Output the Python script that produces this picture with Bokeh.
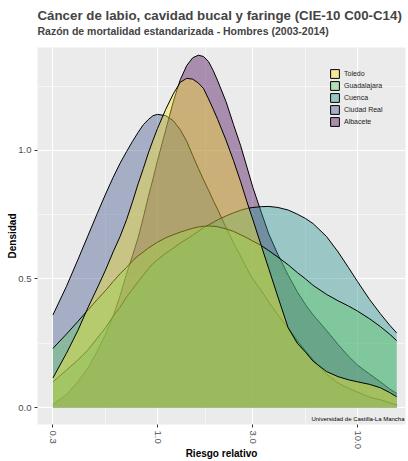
import numpy as np
from bokeh.plotting import figure
from bokeh.models import (Range1d, FixedTicker, PrintfTickFormatter, Title, Label,
                          Legend, LegendItem)
from bokeh.embed import file_html
from bokeh.resources import INLINE

# Relative risk grid (log scale) and density estimates per province
riesgo = [0.3, 0.35, 0.4, 0.45, 0.5, 0.55, 0.6, 0.65, 0.7, 0.75, 0.8, 0.85, 0.9, 0.95,
          1.0, 1.1, 1.2, 1.3, 1.4, 1.5, 1.6, 1.7, 1.8, 1.9, 2.0, 2.2, 2.4, 2.6, 2.8,
          3.0, 3.3, 3.6, 4.0, 4.5, 5.0, 5.5, 6.0, 7.0, 8.0, 9.0, 10.0, 11.5, 13.0,
          14.5, 15.7]

toledo = [0.115, 0.21, 0.30, 0.39, 0.465, 0.535, 0.605, 0.665, 0.73, 0.80, 0.87,
          0.93, 0.99, 1.04, 1.085, 1.16, 1.22, 1.265, 1.28, 1.277, 1.262, 1.24,
          1.20, 1.16, 1.12, 1.04, 0.96, 0.88, 0.80, 0.73, 0.63, 0.54, 0.43, 0.31,
          0.25, 0.215, 0.18, 0.14, 0.12, 0.108, 0.10, 0.09, 0.077, 0.058, 0.042]

guadalajara = [0.23, 0.285, 0.335, 0.38, 0.42, 0.455, 0.49, 0.52, 0.545, 0.57, 0.59,
               0.605, 0.62, 0.632, 0.643, 0.66, 0.672, 0.682, 0.69, 0.697, 0.702,
               0.705, 0.706, 0.705, 0.703, 0.695, 0.685, 0.672, 0.66, 0.647, 0.63,
               0.61, 0.585, 0.555, 0.525, 0.50, 0.475, 0.44, 0.415, 0.395, 0.375,
               0.345, 0.315, 0.285, 0.26]

cuenca = [0.10, 0.145, 0.185, 0.225, 0.27, 0.31, 0.355, 0.39, 0.43, 0.46, 0.49,
          0.515, 0.54, 0.56, 0.575, 0.60, 0.62, 0.64, 0.655, 0.67, 0.685, 0.70,
          0.71, 0.72, 0.73, 0.745, 0.757, 0.767, 0.774, 0.778, 0.781, 0.782, 0.778,
          0.768, 0.752, 0.735, 0.715, 0.665, 0.605, 0.545, 0.49, 0.42, 0.365, 0.32,
          0.29]

ciudad_real = [0.36, 0.47, 0.575, 0.67, 0.755, 0.83, 0.895, 0.95, 0.995, 1.035, 1.07,
               1.10, 1.12, 1.135, 1.14, 1.135, 1.115, 1.08, 1.035, 0.98, 0.93, 0.885,
               0.845, 0.805, 0.77, 0.70, 0.64, 0.59, 0.54, 0.50, 0.455, 0.41, 0.36,
               0.31, 0.26, 0.22, 0.185, 0.13, 0.095, 0.075, 0.06, 0.04, 0.03, 0.018,
               0.01]

albacete = [0.012, 0.05, 0.10, 0.155, 0.22, 0.285, 0.355, 0.435, 0.52, 0.59, 0.66,
            0.74, 0.82, 0.89, 0.96, 1.08, 1.19, 1.275, 1.33, 1.36, 1.37, 1.365,
            1.345, 1.31, 1.27, 1.19, 1.10, 1.02, 0.935, 0.855, 0.76, 0.675, 0.595,
            0.515, 0.45, 0.40, 0.36, 0.30, 0.245, 0.20, 0.165, 0.13, 0.10, 0.072,
            0.055]

provincias = ["Toledo", "Guadalajara", "Cuenca", "Ciudad Real", "Albacete"]
densidades = [toledo, guadalajara, cuenca, ciudad_real, albacete]
colores = ["#FDE725", "#5DC863", "#21908C", "#3B528B", "#440154"]

x_ticks = [0.3, 1.0, 3.0, 10.0]
y_ticks = [0.0, 0.5, 1.0]

FONT = "Liberation Sans"

p = figure(width=408, height=461, x_axis_type="log",
           x_range=Range1d(10 ** -0.6, 10 ** 1.24), y_range=Range1d(-0.066, 1.40),
           output_backend="svg", toolbar_location=None, title=None,
           min_border_left=37, min_border_right=3, min_border_top=47,
           min_border_bottom=36, background_fill_color="#EBEBEB",
           border_fill_color="white", outline_line_color=None)

# Filled densities, last province in the legend drawn first
for dens, col in reversed(list(zip(densidades, colores))):
    p.varea(x=riesgo, y1=0, y2=dens, fill_color=col, fill_alpha=0.4)
    p.line(x=riesgo, y=dens, line_color="black", line_width=1)

# Legend swatches (glyphs without visible extent)
items = []
for name, col in zip(provincias, colores):
    r = p.quad(left=[np.nan], right=[np.nan], bottom=[np.nan], top=[np.nan],
               fill_color=col, fill_alpha=0.4, line_color="black", line_width=1)
    items.append(LegendItem(label=name, renderers=[r]))
legend = Legend(items=items, location=(292, 297), orientation="vertical",
                glyph_width=11, glyph_height=11, label_height=11,
                label_text_font_size="7px", label_text_font=FONT,
                label_text_color="#1A1A1A",
                label_standoff=4, spacing=1, padding=0, margin=0,
                border_line_color=None, background_fill_alpha=0)
p.add_layout(legend)

# Axes and grid
mid = [float(np.sqrt(a * b)) for a, b in zip(x_ticks[:-1], x_ticks[1:])]
p.xaxis.ticker = FixedTicker(ticks=x_ticks, minor_ticks=mid)
p.yaxis.ticker = FixedTicker(ticks=y_ticks, minor_ticks=[0.25, 0.75, 1.25])
p.xaxis.formatter = PrintfTickFormatter(format="%.1f")
p.yaxis.formatter = PrintfTickFormatter(format="%.1f")
p.xaxis.major_label_orientation = "vertical"
p.xaxis.axis_label = "Riesgo relativo"
p.yaxis.axis_label = "Densidad"
for ax in (p.xaxis, p.yaxis):
    ax.axis_line_color = None
    ax.major_tick_line_color = "#333333"
    ax.major_tick_in = 0
    ax.major_tick_out = 3
    ax.minor_tick_line_color = None
    ax.major_label_text_color = "#4D4D4D"
    ax.major_label_text_font_size = "9.5px"
    ax.major_label_text_font = FONT
    ax.major_label_standoff = 2
    ax.axis_label_text_font = FONT
    ax.axis_label_text_font_style = "bold"
    ax.axis_label_text_font_size = "10px"
    ax.axis_label_text_color = "black"
p.xaxis.axis_label_standoff = -4
p.yaxis.axis_label_standoff = -3

p.grid.grid_line_color = "white"
p.grid.grid_line_width = 1.1
p.grid.minor_grid_line_color = "white"
p.grid.minor_grid_line_width = 0.55

p.add_layout(Label(x=10 ** 1.235, y=-0.043, text="Universidad de Castilla-La Mancha",
                   text_align="right", text_baseline="middle", text_font=FONT,
                   text_font_size="6px", text_color="black"))

# Title block: spacer, subtitle, title (stacked outward from the frame)
p.add_layout(Title(text=" ", text_font_size="6px", standoff=3), "above")
p.add_layout(Title(text="Razón de mortalidad estandarizada - Hombres (2003-2014)",
                   text_font=FONT, text_font_style="bold", text_font_size="10.5px",
                   align="left", standoff=0), "above")
p.add_layout(Title(text="Cáncer de labio, cavidad bucal y faringe (CIE-10 C00-C14)",
                   text_font=FONT, text_font_style="bold", text_font_size="13.3px",
                   align="left", standoff=0), "above")

open("out.html", "w").write(file_html(p, INLINE))
